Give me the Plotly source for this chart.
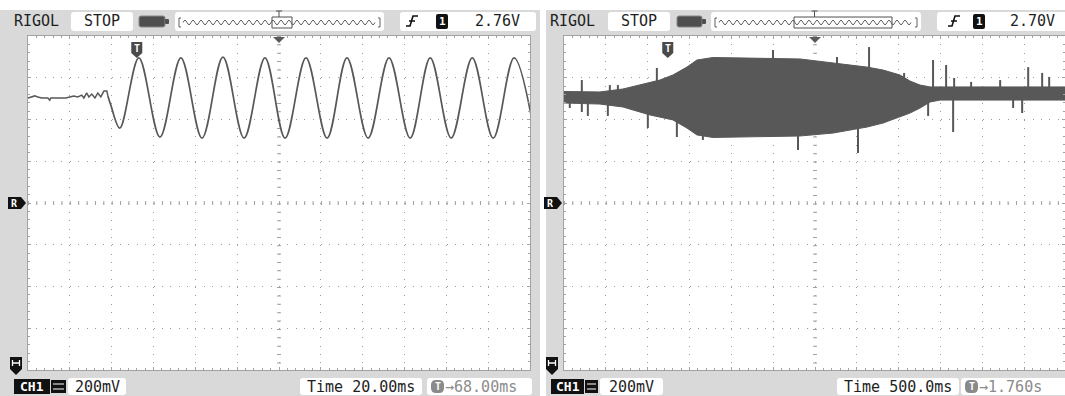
import plotly.graph_objects as go

W, H = 1065, 396

# ---------------- data ----------------
# Left capture: 20 ms/div, trigger offset 68 ms.  t = ms from trigger, v = volts from screen centre
pre_t = [-52.0, -50.2, -48.8, -47.3, -45.4, -42.5, -41.6, -41.1, -37.7, -33.9, -32.0, -30.1,
         -28.2, -26.3, -25.3, -23.9, -22.9, -21.5, -20.0, -18.6, -17.2, -15.7, -14.3, -13.8]
pre_v = [0.503, 0.508, 0.513, 0.508, 0.503, 0.503, 0.493, 0.503, 0.503, 0.503, 0.508, 0.513,
         0.508, 0.517, 0.503, 0.527, 0.508, 0.522, 0.503, 0.527, 0.508, 0.536, 0.536, 0.513]
osc_t = [-13.8, -12.4, -8.1, 1.0, 11.1, 21.1, 31.2, 41.2, 51.3, 61.3, 70.9, 80.9, 91.0,
         100.5, 110.6, 120.6, 130.7, 140.3, 150.3, 160.4, 170.4, 180.4, 190.5]
osc_v = [0.513, 0.469, 0.359, 0.695, 0.316, 0.695, 0.311, 0.699, 0.311, 0.695, 0.311, 0.695,
         0.311, 0.695, 0.311, 0.695, 0.311, 0.695, 0.311, 0.695, 0.311, 0.695, 0.311]

# Right capture: 500 ms/div, trigger offset 1.760 s.  t = s from trigger
env_t = [-1.24, -0.812, -0.537, -0.214, -0.094, 0.061, 0.229, 0.349, 0.540, 1.581, 1.975,
         2.382, 2.573, 2.777, 2.896, 3.016, 3.136, 3.255, 4.76]
env_hi = [0.534, 0.532, 0.546, 0.575, 0.589, 0.613, 0.651, 0.685, 0.697, 0.690, 0.671,
          0.651, 0.637, 0.613, 0.584, 0.565, 0.556, 0.556, 0.556]
env_lo = [0.479, 0.474, 0.460, 0.422, 0.412, 0.398, 0.359, 0.326, 0.314, 0.321, 0.335,
          0.364, 0.383, 0.412, 0.431, 0.455, 0.484, 0.493, 0.493]
spike_up_t = [-1.027, -0.692, -0.596, -0.130, 1.258, 2.023, 2.406, 2.825, 3.171, 3.327,
              3.423, 3.626, 3.973, 4.308, 4.475, 4.559]
spike_up_v = [0.589, 0.565, 0.565, 0.647, 0.733, 0.699, 0.747, 0.623, 0.685, 0.661,
              0.599, 0.580, 0.589, 0.651, 0.623, 0.604]
spike_dn_t = [-1.171, -1.027, -0.955, -0.716, -0.238, 0.109, 0.420, 1.557, 2.274, 3.112,
              3.411, 4.128, 4.236]
spike_dn_v = [0.455, 0.436, 0.417, 0.417, 0.359, 0.316, 0.302, 0.254, 0.240, 0.417,
              0.340, 0.455, 0.431]
spike_base = 0.51

# screen settings / labels
x_center = [68.0, 1.76]      # horizontal offset of each capture
x_div = [20.0, 0.5]          # time per division
v_div = 0.2                  # volts per division
brand = "RIGOL"
run_state = "STOP"
trig_level = ["2.76V", "2.70V"]
volt_label = ["200mV", "200mV"]
time_label = ["Time 20.00ms", "Time 500.0ms"]
offset_label = ["\u219268.00ms", "\u21921.760s"]

# ---------------- styling / geometry ----------------
GRAY_BG = "#d9d9d9"
TRACE = "#585858"
FRAME = "#a2a2a2"
TXT = "#1e1e1e"
FONT = "DejaVu Sans Mono"

PLOT_L = [28, 564]
PLOT_R = [530, 1066]
PLOT_T, PLOT_B = 36, 370


def P(x):
    return x / W


def Q(y):
    return 1 - y / H


def rrect(x0, y0, x1, y1, r=3):
    return (f"M{P(x0 + r)},{Q(y0)} L{P(x1 - r)},{Q(y0)} Q{P(x1)},{Q(y0)} {P(x1)},{Q(y0 + r)} "
            f"L{P(x1)},{Q(y1 - r)} Q{P(x1)},{Q(y1)} {P(x1 - r)},{Q(y1)} "
            f"L{P(x0 + r)},{Q(y1)} Q{P(x0)},{Q(y1)} {P(x0)},{Q(y1 - r)} "
            f"L{P(x0)},{Q(y0 + r)} Q{P(x0)},{Q(y0)} {P(x0 + r)},{Q(y0)} Z")


def poly(pts):
    return "M" + " L".join(f"{P(x)},{Q(y)}" for x, y in pts) + " Z"


shapes = []
ann = []


def box(x0, y0, x1, y1, fill="white", r=3, layer="below", lc=None, lw=0):
    shapes.append(dict(type="path", xref="paper", yref="paper", path=rrect(x0, y0, x1, y1, r),
                       fillcolor=fill, line=dict(width=lw, color=lc or fill), layer=layer))


def shape_path(path, fill=None, lc="black", lw=0, layer="above"):
    d = dict(type="path", xref="paper", yref="paper", path=path, layer=layer,
             line=dict(width=lw, color=lc))
    if fill:
        d["fillcolor"] = fill
    shapes.append(d)


def text(x, y, s, size=15, color=TXT, anchor="center", bold=False):
    if bold:
        s = f"<b>{s}</b>"
    ann.append(dict(xref="paper", yref="paper", x=P(x), y=Q(y), text=s, showarrow=False,
                    xanchor=anchor, yanchor="middle", font=dict(family=FONT, size=size, color=color)))


def squiggle(x0, x1, y, period=8.0, amp=2.2):
    d = f"M{P(x0)},{Q(y)}"
    x, up = x0, True
    while x + period / 2 <= x1 + 0.01:
        cy = y - 2 * amp if up else y + 2 * amp
        d += f" Q{P(x + period / 4)},{Q(cy)} {P(x + period / 2)},{Q(y)}"
        x += period / 2
        up = not up
    return d


# panels (gray) and screens (white)
box(0, 10, 540, 396, fill=GRAY_BG, r=0)
box(546, 10, 1065, 396, fill=GRAY_BG, r=0)
for i in range(2):
    box(PLOT_L[i], PLOT_T, PLOT_R[i], PLOT_B, fill="white", r=0)

# per-panel decorations
panels = [
    dict(rig=12, stop=(71, 133), bat=(139, 165), wave=(175, 384), win=(272, 292),
         trig=(400, 536), fx=412, one=(436, 448), lvl=497,
         ch=(14, 50), ico=(51, 66), mv=(68, 126), tb=(300, 422), ob=(427, 532)),
    dict(rig=548, stop=(608, 670), bat=(677, 702), wave=(711, 921), win=(794, 892),
         trig=(937, 1068), fx=954, one=(973, 985), lvl=1032,
         ch=(551, 584), ico=(585, 598), mv=(600, 663), tb=(837, 959), ob=(961, 1068)),
]

for i, p in enumerate(panels):
    # top bar
    text(p["rig"], 21, brand, anchor="left")
    box(p["stop"][0], 12, p["stop"][1], 31)
    text((p["stop"][0] + p["stop"][1]) / 2, 21.5, run_state)
    box(p["bat"][0], 16, p["bat"][1], 27, fill="#4e4e4e", r=2, lc="#888", lw=1)
    box(p["bat"][1], 19, p["bat"][1] + 4, 24, fill="#4e4e4e", r=1)
    wx0, wx1 = p["wave"]
    box(wx0, 12, wx1, 31)
    shape_path(squiggle(wx0 + 8, wx1 - 8, 22.5), lc="#606060", lw=1, layer="below")
    shape_path(f"M{P(wx0 + 6)},{Q(18)} L{P(wx0 + 4)},{Q(18)} L{P(wx0 + 4)},{Q(27)} L{P(wx0 + 6)},{Q(27)}",
               lc="#606060", lw=1, layer="below")
    shape_path(f"M{P(wx1 - 6)},{Q(18)} L{P(wx1 - 4)},{Q(18)} L{P(wx1 - 4)},{Q(27)} L{P(wx1 - 6)},{Q(27)}",
               lc="#606060", lw=1, layer="below")
    a, b = p["win"]
    shapes.append(dict(type="rect", xref="paper", yref="paper", x0=P(a), x1=P(b), y0=Q(17), y1=Q(28),
                       line=dict(color="#505050", width=1), layer="below"))
    cx = (PLOT_L[i] + PLOT_R[i]) / 2 if i == 0 else (PLOT_L[i] + PLOT_R[i]) / 2 - 0.5
    shape_path(f"M{P(cx)},{Q(11)} L{P(cx)},{Q(17)} M{P(cx - 3)},{Q(11)} L{P(cx + 3)},{Q(11)}",
               lc="#505050", lw=1, layer="below")
    tx0, tx1 = p["trig"]
    box(tx0, 12, tx1, 31)
    fx = p["fx"]
    shape_path(f"M{P(fx - 6)},{Q(26)} L{P(fx - 2)},{Q(26)} L{P(fx + 1)},{Q(16)} L{P(fx + 6)},{Q(16)} "
               f"M{P(fx - 3)},{Q(21)} L{P(fx + 3)},{Q(21)}", lc="#111", lw=1.6, layer="above")
    o0, o1 = p["one"]
    box(o0, 14, o1, 29, fill="#111", r=2, layer="above")
    text((o0 + o1) / 2, 21.5, "1", size=11, color="white", bold=True)
    text(p["lvl"], 21.5, trig_level[i])

    # bottom bar
    c0, c1 = p["ch"]
    box(c0, 379, c1, 394, fill="#111", r=0)
    text((c0 + c1) / 2, 386.5, "CH1", size=13, color="white", bold=True)
    i0, i1 = p["ico"]
    box(i0, 380, i1, 393, fill="#111", r=0)
    shape_path(f"M{P(i0 + 2)},{Q(384)} L{P(i1 - 2)},{Q(384)} M{P(i0 + 2)},{Q(389)} L{P(i1 - 2)},{Q(389)}",
               lc="white", lw=1.2, layer="above")
    m0, m1 = p["mv"]
    box(m0, 378, m1, 395)
    text((m0 + m1) / 2, 386.5, volt_label[i])
    t0, t1 = p["tb"]
    box(t0, 378, t1, 395)
    text((t0 + t1) / 2, 386.5, time_label[i])
    b0, b1 = p["ob"]
    box(b0, 378, b1, 395)
    box(b0 + 4, 380, b0 + 17, 393, fill="#8a8a8a", r=5, layer="above")
    text(b0 + 10.5, 386.5, "T", size=10, color="white", bold=True)
    text(b0 + 16, 386.5, offset_label[i], color="#8c8c8c", anchor="left")

    # center cross with tick marks
    mid_y = (PLOT_T + PLOT_B) / 2
    shapes.append(dict(type="line", xref="paper", yref="paper", x0=P(PLOT_L[i]), x1=P(min(PLOT_R[i], W)),
                       y0=Q(mid_y), y1=Q(mid_y), line=dict(color=FRAME, width=4, dash="1px,7.37px"),
                       layer="below"))
    cxm = (PLOT_L[i] + PLOT_R[i]) / 2
    shapes.append(dict(type="line", xref="paper", yref="paper", x0=P(cxm), x1=P(cxm),
                       y0=Q(PLOT_T), y1=Q(PLOT_B), line=dict(color=FRAME, width=4, dash="1px,7.37px"),
                       layer="below"))
    # top-centre marker
    shape_path(poly([(cxm - 6, 37), (cxm + 6, 37), (cxm, 43)]), fill="#5a5a5a", lw=0)

    # trigger (T) marker at t = 0
    r0, r1 = x_center[i] - 6 * x_div[i], x_center[i] + 6 * x_div[i]
    tpx = PLOT_L[i] + (0 - r0) / (r1 - r0) * (PLOT_R[i] - PLOT_L[i])
    shape_path(poly([(tpx - 5.5, 42), (tpx + 5.5, 42), (tpx + 5.5, 53), (tpx, 58), (tpx - 5.5, 53)]),
               fill="#4a4a4a", lw=0)
    text(tpx, 48, "T", size=10, color="white", bold=True)

    # reference marker R and ground marker
    rx = PLOT_L[i] - 20
    shape_path(poly([(rx, 197), (rx + 13, 197), (rx + 18, 203), (rx + 13, 209), (rx, 209)]), fill="#111", lw=0)
    text(rx + 6.5, 203, "R", size=10, color="white", bold=True)
    gx = PLOT_L[i] - 12
    shape_path(poly([(gx - 6, 357), (gx + 6, 357), (gx + 6, 369), (gx, 375), (gx - 6, 369)]), fill="#111", lw=0)
    shape_path(f"M{P(gx - 3.5)},{Q(360)} L{P(gx - 3.5)},{Q(366)} M{P(gx - 3.5)},{Q(363)} L{P(gx + 3.5)},{Q(363)} "
               f"M{P(gx + 3.5)},{Q(360)} L{P(gx + 3.5)},{Q(366)}", lc="white", lw=1.3)

# ---------------- traces ----------------
fig = go.Figure()
fig.add_trace(go.Scatter(x=pre_t, y=pre_v, mode="lines", line=dict(color=TRACE, width=1.5),
                         xaxis="x", yaxis="y", hoverinfo="skip", showlegend=False))
fig.add_trace(go.Scatter(x=osc_t, y=osc_v, mode="lines",
                         line=dict(color=TRACE, width=1.7, shape="spline", smoothing=1.0),
                         xaxis="x", yaxis="y", hoverinfo="skip", showlegend=False))
fig.add_trace(go.Scatter(x=env_t + env_t[::-1], y=env_hi + env_lo[::-1], mode="lines", fill="toself",
                         fillcolor=TRACE, line=dict(color=TRACE, width=1),
                         xaxis="x2", yaxis="y2", hoverinfo="skip", showlegend=False))
sx, sy = [], []
for t, v in list(zip(spike_up_t, spike_up_v)) + list(zip(spike_dn_t, spike_dn_v)):
    sx += [t, t, None]
    sy += [spike_base, v, None]
fig.add_trace(go.Scatter(x=sx, y=sy, mode="lines", line=dict(color=TRACE, width=2),
                         xaxis="x2", yaxis="y2", hoverinfo="skip", showlegend=False))


def xaxis(i, dom):
    return dict(domain=dom, range=[x_center[i] - 6 * x_div[i], x_center[i] + 6 * x_div[i]],
                tick0=x_center[i], dtick=x_div[i], showticklabels=False,
                showgrid=True, gridcolor="#9e9e9e", gridwidth=1, griddash="1px,7.37px",
                ticks="inside", ticklen=3, tickcolor=FRAME, mirror="allticks",
                showline=True, linecolor=FRAME, linewidth=1, zeroline=False, fixedrange=True,
                minor=dict(dtick=x_div[i] / 5, tick0=x_center[i], ticks="inside", ticklen=2,
                           tickcolor=FRAME, showgrid=False),
                anchor="y" if i == 0 else "y2")


def yaxis(i, dom):
    return dict(domain=dom, range=[-4 * v_div, 4 * v_div], tick0=0, dtick=v_div, showticklabels=False,
                showgrid=True, gridcolor="#9e9e9e", gridwidth=1, griddash="1px,7.37px",
                ticks="inside", ticklen=3, tickcolor=FRAME, mirror="allticks",
                showline=True, linecolor=FRAME, linewidth=1, zeroline=False, fixedrange=True,
                minor=dict(dtick=v_div / 5, tick0=0, ticks="inside", ticklen=2,
                           tickcolor=FRAME, showgrid=False),
                anchor="x" if i == 0 else "x2")


ydom = [Q(PLOT_B), Q(PLOT_T)]
fig.update_layout(
    width=W, height=H, margin=dict(l=0, r=0, t=0, b=0),
    paper_bgcolor="white", plot_bgcolor="rgba(0,0,0,0)",
    xaxis=xaxis(0, [P(PLOT_L[0]), P(PLOT_R[0])]),
    yaxis=yaxis(0, ydom),
    xaxis2=xaxis(1, [P(PLOT_L[1]), 1.0]),
    yaxis2=yaxis(1, ydom),
    shapes=shapes, annotations=ann, showlegend=False,
)
fig.update_layout(xaxis2=dict(range=[x_center[1] - 6 * x_div[1],
                                     x_center[1] - 6 * x_div[1] + 12 * x_div[1] * (W - PLOT_L[1]) / (PLOT_R[1] - PLOT_L[1])]))

fig.write_html("out.html", config=dict(displayModeBar=False),
               post_script="document.body.style.margin='0';document.body.style.padding='0';"
                           "document.body.style.overflow='hidden';")
